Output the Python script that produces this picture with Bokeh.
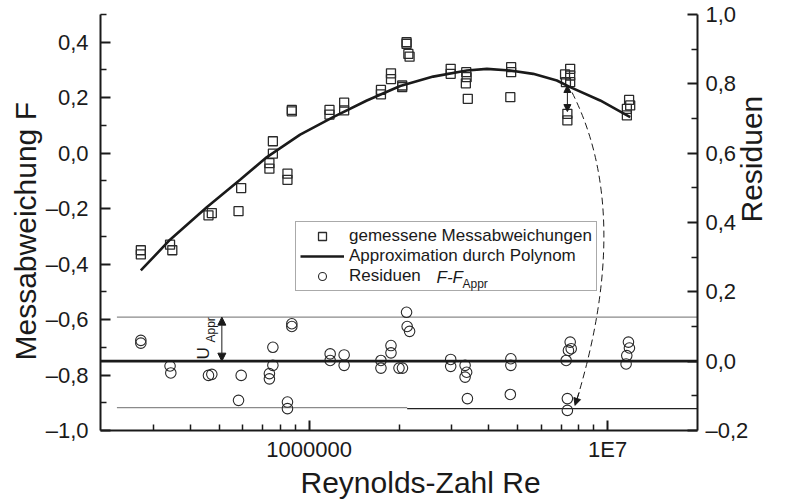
import math
from bokeh.plotting import figure
from bokeh.models import (Range1d, LinearAxis, FixedTicker, CustomJSTickFormatter,
                          Legend, LegendItem, Label, Arrow, NormalHead, Span, Title)
from bokeh.embed import file_html
from bokeh.resources import INLINE

FONT = "Liberation Sans"
INK = "#1a1a1a"

# ---------------- data ----------------
# measured deviations F (squares)
sq_re = [2.73e5, 2.73e5, 3.42e5, 3.48e5, 4.60e5, 4.72e5, 5.80e5, 5.92e5,
         7.36e5, 7.36e5, 7.56e5, 7.56e5, 8.46e5, 8.46e5, 8.75e5, 8.75e5,
         1.17e6, 1.17e6, 1.31e6, 1.31e6, 1.74e6, 1.74e6, 1.88e6, 1.88e6,
         2.05e6, 2.05e6, 2.12e6, 2.12e6, 2.15e6, 2.17e6, 2.98e6, 2.98e6,
         3.36e6, 3.37e6, 3.35e6, 3.40e6, 4.75e6, 4.75e6, 4.72e6,
         7.20e6, 7.49e6, 7.49e6, 7.49e6, 7.25e6, 7.33e6, 7.33e6,
         1.18e7, 1.19e7, 1.16e7, 1.16e7]
sq_f = [-0.35, -0.365, -0.33, -0.35, -0.224, -0.216, -0.209, -0.126,
        -0.036, -0.056, -0.002, 0.043, -0.074, -0.096, 0.156, 0.151,
        0.156, 0.139, 0.182, 0.154, 0.228, 0.212, 0.288, 0.267,
        0.238, 0.244, 0.400, 0.394, 0.358, 0.348, 0.304, 0.286,
        0.292, 0.274, 0.252, 0.196, 0.310, 0.292, 0.202,
        0.284, 0.304, 0.280, 0.256, 0.256, 0.142, 0.118,
        0.192, 0.172, 0.160, 0.136]

# polynomial approximation
fit_re = [2.73e5, 3.42e5, 4.54e5, 5.87e5, 7.22e5, 9.33e5, 1.203e6, 1.561e6,
          2.018e6, 2.603e6, 3.375e6, 3.94e6, 4.715e6, 5.63e6, 6.76e6,
          7.49e6, 9.44e6, 1.19e7]
fit_f = [-0.423, -0.312, -0.195, -0.096, -0.014, 0.067, 0.130, 0.190,
         0.242, 0.276, 0.298, 0.304, 0.298, 0.286, 0.262,
         0.238, 0.190, 0.130]

# residuals F - F_Appr (circles, right axis)
ci_re = [2.73e5, 2.73e5, 3.42e5, 3.44e5, 4.60e5, 4.72e5, 5.80e5, 5.92e5,
         7.56e5, 7.36e5, 7.36e5, 7.56e5, 8.46e5, 8.46e5, 8.75e5, 8.75e5,
         1.176e6, 1.176e6, 1.31e6, 1.31e6, 1.74e6, 1.74e6, 1.88e6, 1.88e6,
         2.00e6, 2.054e6, 2.12e6, 2.13e6, 2.17e6, 2.98e6, 2.98e6,
         3.33e6, 3.37e6, 3.33e6, 3.39e6, 4.74e6, 4.74e6, 4.72e6,
         7.49e6, 7.39e6, 7.55e6, 7.26e6, 7.33e6, 7.33e6,
         1.174e7, 1.183e7, 1.159e7, 1.153e7]
ci_r = [0.060, 0.052, -0.014, -0.034, -0.041, -0.038, -0.113, -0.041,
        0.040, -0.036, -0.051, -0.012, -0.118, -0.137, 0.108, 0.100,
        0.021, 0.002, 0.018, -0.012, 0.002, -0.020, 0.045, 0.024,
        -0.020, -0.020, 0.141, 0.100, 0.086, 0.005, -0.015,
        -0.012, -0.032, -0.046, -0.108, 0.007, -0.012, -0.096,
        0.055, 0.031, 0.036, 0.002, -0.108, -0.142,
        0.055, 0.038, 0.016, -0.008]

# uncertainty band of the approximation (right axis)
u_upper = 0.127
u_lower = -0.134
u_lower_dark = -0.137
band_start_re = 2.27e5
band_split_re = 2.13e6

x_major = [1e6, 1e7]
x_minor = [3e5, 4e5, 5e5, 6e5, 7e5, 8e5, 9e5,
           2e6, 3e6, 4e6, 5e6, 6e6, 7e6, 8e6, 9e6]
yl_major = [-1.0, -0.8, -0.6, -0.4, -0.2, 0.0, 0.2, 0.4]
yl_minor = [-0.9, -0.7, -0.5, -0.3, -0.1, 0.1, 0.3, 0.5]
yr_major = [-0.2, 0.0, 0.2, 0.4, 0.6, 0.8, 1.0]
yr_minor = [-0.1, 0.1, 0.3, 0.5, 0.7, 0.9]

# ---------------- figure ----------------
p = figure(width=788, height=500, output_backend="svg", toolbar_location=None,
           x_axis_type="log", x_range=Range1d(2e5, 2e7), y_range=Range1d(-1.0, 0.5),
           min_border_left=100, min_border_right=91, min_border_top=14,
           min_border_bottom=70)
p.extra_y_ranges = {"res": Range1d(-0.2, 1.0)}
p.grid.visible = False
p.outline_line_color = None
p.background_fill_color = "white"

comma_fmt = CustomJSTickFormatter(code="""
    var s = Math.abs(tick).toFixed(1).replace('.', ',');
    return (tick < -1e-9 ? '\\u2013' : '') + s;
""")


def style_axis(ax):
    ax.axis_line_width = 2
    ax.axis_line_color = INK
    ax.major_tick_in = 10
    ax.major_tick_out = 0
    ax.minor_tick_in = 6
    ax.minor_tick_out = 0
    ax.major_tick_line_width = 2
    ax.minor_tick_line_width = 1.5
    ax.major_tick_line_color = INK
    ax.minor_tick_line_color = INK
    ax.major_label_text_font = FONT
    ax.major_label_text_font_size = "22px"
    ax.major_label_text_color = INK
    ax.axis_label_text_font = FONT
    ax.axis_label_text_font_size = "30px"
    ax.axis_label_text_font_style = "normal"
    ax.axis_label_text_color = INK


xa = p.xaxis[0]
xa.ticker = FixedTicker(ticks=x_major, minor_ticks=x_minor)
xa.formatter = CustomJSTickFormatter(code="return tick < 5e6 ? '1000000' : '1E7';")
style_axis(xa)
xa.major_label_standoff = 6

ya = p.yaxis[0]
ya.ticker = FixedTicker(ticks=yl_major, minor_ticks=yl_minor)
ya.formatter = comma_fmt
style_axis(ya)
ya.major_label_standoff = 12

yr = LinearAxis(y_range_name="res",
                ticker=FixedTicker(ticks=yr_major, minor_ticks=yr_minor),
                formatter=comma_fmt)
style_axis(yr)
yr.axis_label = "Residuen"
yr.axis_label_standoff = 0
yr.major_label_standoff = 8
try:
    yr.axis_label_orientation = math.pi / 2
except Exception:
    pass
p.add_layout(yr, "right")

# axis titles as side-panel titles (allow an offset along the axis)
p.add_layout(Title(text="Reynolds-Zahl Re", align="left", offset=200, standoff=0,
                   vertical_align="middle", text_font=FONT, text_font_size="30px",
                   text_font_style="normal", text_color=INK), "below")
p.add_layout(Title(text="Messabweichung F", align="left", offset=70, standoff=0,
                   vertical_align="middle", text_font=FONT, text_font_size="30px",
                   text_font_style="normal", text_color=INK), "left")

# band lines and zero line of the residuals
p.segment(x0=[band_start_re], y0=[u_upper], x1=[2e7], y1=[u_upper],
          line_color="#8a8a8a", line_width=1.2, y_range_name="res")
p.segment(x0=[band_start_re], y0=[u_lower], x1=[band_split_re], y1=[u_lower],
          line_color="#8a8a8a", line_width=1.2, y_range_name="res")
p.segment(x0=[band_split_re], y0=[u_lower_dark], x1=[2e7], y1=[u_lower_dark],
          line_color="#222222", line_width=1.4, y_range_name="res")
p.add_layout(Span(location=0.0, dimension="width", y_range_name="res",
                  line_color=INK, line_width=2.6))

# data
r_sq = p.scatter(sq_re, sq_f, marker="square", size=9, fill_color=None,
                 line_color="#2a2a2a", line_width=1.3)
r_fit = p.line(fit_re, fit_f, line_color=INK, line_width=2.6)
r_ci = p.scatter(ci_re, ci_r, marker="circle", size=10.5, fill_color=None,
                 line_color="#2a2a2a", line_width=1.1, y_range_name="res")

# U_Appr double arrow
p.add_layout(Arrow(start=NormalHead(size=8, fill_color=INK, line_color=INK),
                   end=NormalHead(size=8, fill_color=INK, line_color=INK),
                   x_start=5.1e5, y_start=0.0, x_end=5.1e5, y_end=u_upper,
                   y_range_name="res", line_width=1, line_color=INK))
p.add_layout(Label(x=103, y=71, x_units="screen", y_units="screen", text="U",
                   angle=math.pi / 2, text_align="left", text_baseline="middle",
                   text_font=FONT, text_font_size="17px", text_color=INK))
p.add_layout(Label(x=110, y=88, x_units="screen", y_units="screen", text="Appr",
                   angle=math.pi / 2, text_align="left", text_baseline="middle",
                   text_font=FONT, text_font_size="12px", text_color=INK))

# arrow between curve and outlier at Re ~ 7.3e6
p.add_layout(Arrow(start=NormalHead(size=7, fill_color=INK, line_color=INK),
                   end=NormalHead(size=7, fill_color=INK, line_color=INK),
                   x_start=7.33e6, y_start=0.244, x_end=7.33e6, y_end=0.150,
                   line_width=1, line_color=INK))

# dashed curved arrow to the residual
p.quadratic(x0=[7.6e6], y0=[0.219], x1=[7.78e6], y1=[-0.909],
            cx=[1.227e7], cy=[-0.2245], line_color=INK, line_width=1,
            line_dash="7 4")
p.add_layout(Arrow(end=NormalHead(size=7, fill_color=INK, line_color=INK),
                   x_start=8.03e6, y_start=-0.862, x_end=7.78e6, y_end=-0.909,
                   line_width=1, line_color=INK))

# legend (transparent fill so the italic / subscript overlay stays visible)
legend = Legend(items=[LegendItem(label="gemessene Messabweichungen", renderers=[r_sq]),
                       LegendItem(label="Approximation durch Polynom", renderers=[r_fit]),
                       LegendItem(label="Residuen", renderers=[r_ci])],
                location=(195, 139), padding=4, spacing=0, margin=0,
                label_height=20, glyph_height=20, glyph_width=44,
                label_standoff=5, label_text_font=FONT,
                label_text_font_size="17px", label_text_color=INK,
                border_line_color="#555555", border_line_width=1,
                background_fill_alpha=0)
p.add_layout(legend, "center")
p.add_layout(Label(x=336, y=153, x_units="screen", y_units="screen", text="F-F",
                   text_align="left", text_baseline="middle", text_font=FONT,
                   text_font_style="italic", text_font_size="17px", text_color=INK))
p.add_layout(Label(x=362, y=147, x_units="screen", y_units="screen", text="Appr",
                   text_align="left", text_baseline="middle", text_font=FONT,
                   text_font_size="12px", text_color=INK))

open("out.html", "w").write(file_html(p, INLINE))
